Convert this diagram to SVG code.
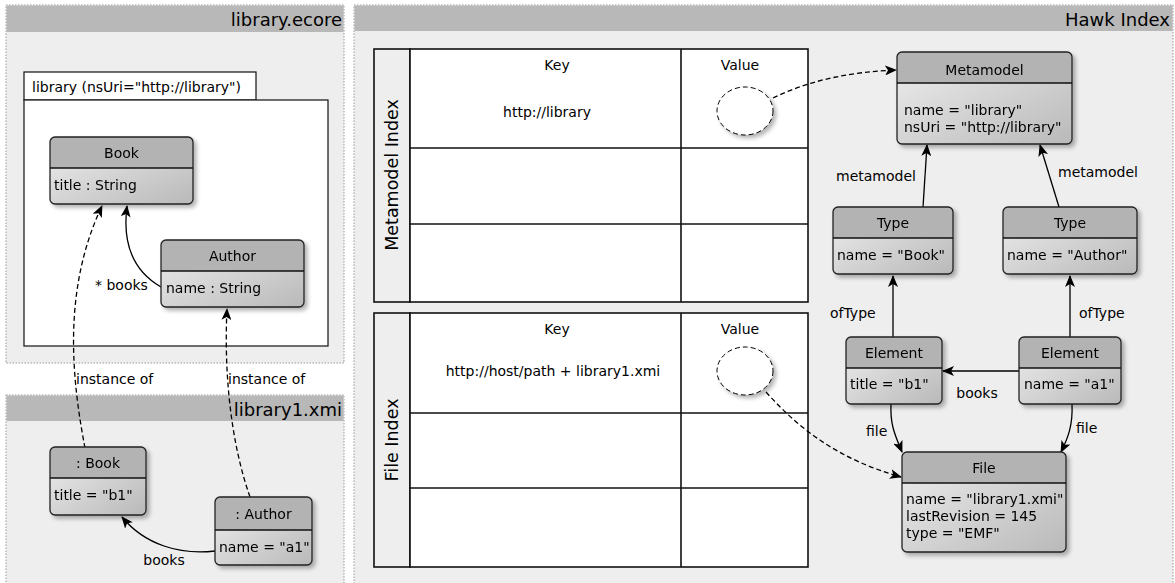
<svg xmlns="http://www.w3.org/2000/svg" width="1175" height="583" viewBox="0 0 1175 583">
<style>
text{font-family:"DejaVu Sans",sans-serif;font-size:14px;fill:#000}
.title{font-size:18px;text-anchor:end}
.ctr{text-anchor:middle}
.side-t{font-size:17.5px;text-anchor:middle}
.panel{fill:#eeeeee;stroke:#999;stroke-width:1;stroke-dasharray:1.5 1.5}
.band{fill:#b8b8b8}
.hdr{fill:#b3b3b3;stroke:none}
.body{fill:url(#g)}
.frame{fill:none;stroke:#222;stroke-width:1.3}
.tbl{fill:#fff;stroke:#111;stroke-width:1.6}
.side{fill:#eeeeee;stroke:#111;stroke-width:1.6}
.ln{stroke:#111;stroke-width:1.6}
.dv{stroke:#111;stroke-width:1.3}
.edge{fill:none;stroke:#000;stroke-width:1.3}
.dash{stroke-dasharray:5 3}
</style>
<defs>
<linearGradient id="g" x1="0" y1="0" x2="1" y2="1">
<stop offset="0" stop-color="#efefef"/>
<stop offset="1" stop-color="#b9b9b9"/>
</linearGradient>
<filter id="sh" x="-10%" y="-10%" width="130%" height="130%">
<feGaussianBlur in="SourceAlpha" stdDeviation="2"/>
<feOffset dx="3" dy="3"/>
<feComponentTransfer><feFuncA type="linear" slope="0.3"/></feComponentTransfer>
<feMerge><feMergeNode/><feMergeNode in="SourceGraphic"/></feMerge>
</filter>
<marker id="ar" viewBox="0 0 12 10" refX="11" refY="5" markerWidth="12" markerHeight="10" markerUnits="userSpaceOnUse" orient="auto">
<path d="M0,0 L12,5 L0,10 L3,5 Z" fill="#000"/>
</marker>
</defs>

<!-- Panels -->
<g id="panel-ecore">
<rect class="panel" x="6" y="5" width="338" height="358"/>
<rect class="band" x="6.5" y="5.5" width="337" height="26.5"/>
<text class="title" x="342" y="26">library.ecore</text>
</g>
<g id="panel-xmi">
<rect class="panel" x="6" y="395" width="338" height="192"/>
<rect class="band" x="6.5" y="395.5" width="337" height="25.5"/>
<text class="title" x="342" y="416">library1.xmi</text>
</g>
<g id="panel-hawk">
<rect class="panel" x="354" y="5" width="819" height="582"/>
<rect class="band" x="354.5" y="5.5" width="818" height="25.5"/>
<text class="title" x="1170" y="26">Hawk Index</text>
</g>

<!-- Package -->
<g id="package">
<rect x="24" y="72" width="232" height="28" fill="#fff" stroke="#222" stroke-width="1.3"/>
<rect x="24" y="100" width="304" height="246" fill="#fff" stroke="#222" stroke-width="1.3"/>
<text x="32" y="92">library (nsUri="http://library")</text>
</g>

<!-- Tables -->
<g id="metamodel-index">
<rect class="side" x="374" y="49" width="36" height="253"/>
<rect class="tbl" x="410" y="49" width="398" height="253"/>
<line class="ln" x1="681" y1="49" x2="681" y2="302"/>
<line class="ln" x1="410" y1="148" x2="808" y2="148"/>
<line class="ln" x1="410" y1="224" x2="808" y2="224"/>
<text class="ctr" x="557" y="70">Key</text>
<text class="ctr" x="740" y="70">Value</text>
<text class="ctr" x="547" y="117">http://library</text>
<text class="side-t" x="392" y="175" transform="rotate(-90 392 175)" dy="6">Metamodel Index</text>
<ellipse cx="745" cy="111" rx="28" ry="24" fill="#fff" stroke="#000" stroke-width="1" stroke-dasharray="5 3" filter="url(#sh)"/>
</g>
<g id="file-index">
<rect class="side" x="374" y="313" width="36" height="254"/>
<rect class="tbl" x="410" y="313" width="398" height="254"/>
<line class="ln" x1="681" y1="313" x2="681" y2="567"/>
<line class="ln" x1="410" y1="413" x2="808" y2="413"/>
<line class="ln" x1="410" y1="488" x2="808" y2="488"/>
<text class="ctr" x="557" y="334">Key</text>
<text class="ctr" x="740" y="334">Value</text>
<text class="ctr" x="553" y="376">http://host/path + library1.xmi</text>
<text class="side-t" x="392" y="440" transform="rotate(-90 392 440)" dy="6">File Index</text>
<ellipse cx="745" cy="371" rx="28" ry="24" fill="#fff" stroke="#000" stroke-width="1" stroke-dasharray="5 3" filter="url(#sh)"/>
</g>

<!-- Connectors -->
<g id="connectors">
<path class="edge" d="M161,287 C135,272 122,245 127,206" marker-end="url(#ar)"/>
<path class="edge dash" d="M85,448 C72,380 62,290 102,206" marker-end="url(#ar)"/>
<path class="edge dash" d="M250,497 C230,440 224,370 227,309" marker-end="url(#ar)"/>
<path class="edge" d="M215,551 C180,555 145,545 122,517" marker-end="url(#ar)"/>
<path class="edge" d="M923,207 L927,145" marker-end="url(#ar)"/>
<path class="edge" d="M1059,207 L1040,145" marker-end="url(#ar)"/>
<path class="edge" d="M893,337 L893,276" marker-end="url(#ar)"/>
<path class="edge" d="M1070,337 L1070,276" marker-end="url(#ar)"/>
<path class="edge" d="M1019,371 L943,371" marker-end="url(#ar)"/>
<path class="edge" d="M891,404 C890,425 895,435 902,452" marker-end="url(#ar)"/>
<path class="edge" d="M1072,404 C1073,425 1068,438 1061,452" marker-end="url(#ar)"/>
<path class="edge dash" d="M773,98 C810,80 850,72 896,70" marker-end="url(#ar)"/>
<path class="edge dash" d="M766,392 C800,430 840,460 901,477" marker-end="url(#ar)"/>
<text x="95" y="290">* books</text>
<text x="76" y="384">instance of</text>
<text x="228" y="384">instance of</text>
<text class="ctr" x="164" y="565">books</text>
<text x="836" y="181">metamodel</text>
<text x="1058" y="177">metamodel</text>
<text x="830" y="318">ofType</text>
<text x="1079" y="318">ofType</text>
<text class="ctr" x="977" y="398">books</text>
<text x="866" y="436">file</text>
<text x="1076" y="433">file</text>
</g>

<!-- Nodes -->
<g id="Book" filter="url(#sh)">
<rect class="body" x="50" y="137" width="143" height="67" rx="5"/>
<path class="hdr" d="M50,168 V142 a5,5 0 0 1 5,-5 H188 a5,5 0 0 1 5,5 V168 Z"/>
<rect class="frame" x="50" y="137" width="143" height="67" rx="5"/>
<line class="dv" x1="50" y1="168" x2="193" y2="168"/>
<text class="ctr" x="121.5" y="158">Book</text>
<text x="54" y="190">title : String</text>
</g>
<g id="Author" filter="url(#sh)">
<rect class="body" x="161" y="240" width="143" height="67" rx="5"/>
<path class="hdr" d="M161,271 V245 a5,5 0 0 1 5,-5 H299 a5,5 0 0 1 5,5 V271 Z"/>
<rect class="frame" x="161" y="240" width="143" height="67" rx="5"/>
<line class="dv" x1="161" y1="271" x2="304" y2="271"/>
<text class="ctr" x="232.5" y="261">Author</text>
<text x="166" y="293">name : String</text>
</g>
<g id="BookInstance" filter="url(#sh)">
<rect class="body" x="50" y="447" width="96" height="68" rx="5"/>
<path class="hdr" d="M50,478 V452 a5,5 0 0 1 5,-5 H141 a5,5 0 0 1 5,5 V478 Z"/>
<rect class="frame" x="50" y="447" width="96" height="68" rx="5"/>
<line class="dv" x1="50" y1="478" x2="146" y2="478"/>
<text class="ctr" x="98" y="468">: Book</text>
<text x="54" y="500">title = "b1"</text>
</g>
<g id="AuthorInstance" filter="url(#sh)">
<rect class="body" x="215" y="497" width="97" height="68" rx="5"/>
<path class="hdr" d="M215,530 V502 a5,5 0 0 1 5,-5 H307 a5,5 0 0 1 5,5 V530 Z"/>
<rect class="frame" x="215" y="497" width="97" height="68" rx="5"/>
<line class="dv" x1="215" y1="530" x2="312" y2="530"/>
<text class="ctr" x="263.5" y="519">: Author</text>
<text x="219" y="552">name = "a1"</text>
</g>
<g id="Metamodel" filter="url(#sh)">
<rect class="body" x="897" y="52" width="175" height="92" rx="5"/>
<path class="hdr" d="M897,83 V57 a5,5 0 0 1 5,-5 H1067 a5,5 0 0 1 5,5 V83 Z"/>
<rect class="frame" x="897" y="52" width="175" height="92" rx="5"/>
<line class="dv" x1="897" y1="83" x2="1072" y2="83"/>
<text class="ctr" x="984.5" y="75">Metamodel</text>
<text x="904" y="115">name = "library"</text>
<text x="904" y="132">nsUri = "http://library"</text>
</g>
<g id="TypeBook" filter="url(#sh)">
<rect class="body" x="833" y="207" width="120" height="67" rx="5"/>
<path class="hdr" d="M833,238 V212 a5,5 0 0 1 5,-5 H948 a5,5 0 0 1 5,5 V238 Z"/>
<rect class="frame" x="833" y="207" width="120" height="67" rx="5"/>
<line class="dv" x1="833" y1="238" x2="953" y2="238"/>
<text class="ctr" x="893" y="228">Type</text>
<text x="837" y="260">name = "Book"</text>
</g>
<g id="TypeAuthor" filter="url(#sh)">
<rect class="body" x="1003" y="207" width="134" height="67" rx="5"/>
<path class="hdr" d="M1003,238 V212 a5,5 0 0 1 5,-5 H1132 a5,5 0 0 1 5,5 V238 Z"/>
<rect class="frame" x="1003" y="207" width="134" height="67" rx="5"/>
<line class="dv" x1="1003" y1="238" x2="1137" y2="238"/>
<text class="ctr" x="1070" y="228">Type</text>
<text x="1007" y="260">name = "Author"</text>
</g>
<g id="ElementB1" filter="url(#sh)">
<rect class="body" x="846" y="337" width="96" height="67" rx="5"/>
<path class="hdr" d="M846,368 V342 a5,5 0 0 1 5,-5 H937 a5,5 0 0 1 5,5 V368 Z"/>
<rect class="frame" x="846" y="337" width="96" height="67" rx="5"/>
<line class="dv" x1="846" y1="368" x2="942" y2="368"/>
<text class="ctr" x="894" y="358">Element</text>
<text x="850" y="389">title = "b1"</text>
</g>
<g id="ElementA1" filter="url(#sh)">
<rect class="body" x="1019" y="337" width="102" height="67" rx="5"/>
<path class="hdr" d="M1019,368 V342 a5,5 0 0 1 5,-5 H1116 a5,5 0 0 1 5,5 V368 Z"/>
<rect class="frame" x="1019" y="337" width="102" height="67" rx="5"/>
<line class="dv" x1="1019" y1="368" x2="1121" y2="368"/>
<text class="ctr" x="1070" y="358">Element</text>
<text x="1024" y="389">name = "a1"</text>
</g>
<g id="File" filter="url(#sh)">
<rect class="body" x="902" y="452" width="164" height="100" rx="5"/>
<path class="hdr" d="M902,483 V457 a5,5 0 0 1 5,-5 H1061 a5,5 0 0 1 5,5 V483 Z"/>
<rect class="frame" x="902" y="452" width="164" height="100" rx="5"/>
<line class="dv" x1="902" y1="483" x2="1066" y2="483"/>
<text class="ctr" x="984" y="473">File</text>
<text x="906" y="504">name = "library1.xmi"</text>
<text x="906" y="521">lastRevision = 145</text>
<text x="906" y="538">type = "EMF"</text>
</g>
</svg>
